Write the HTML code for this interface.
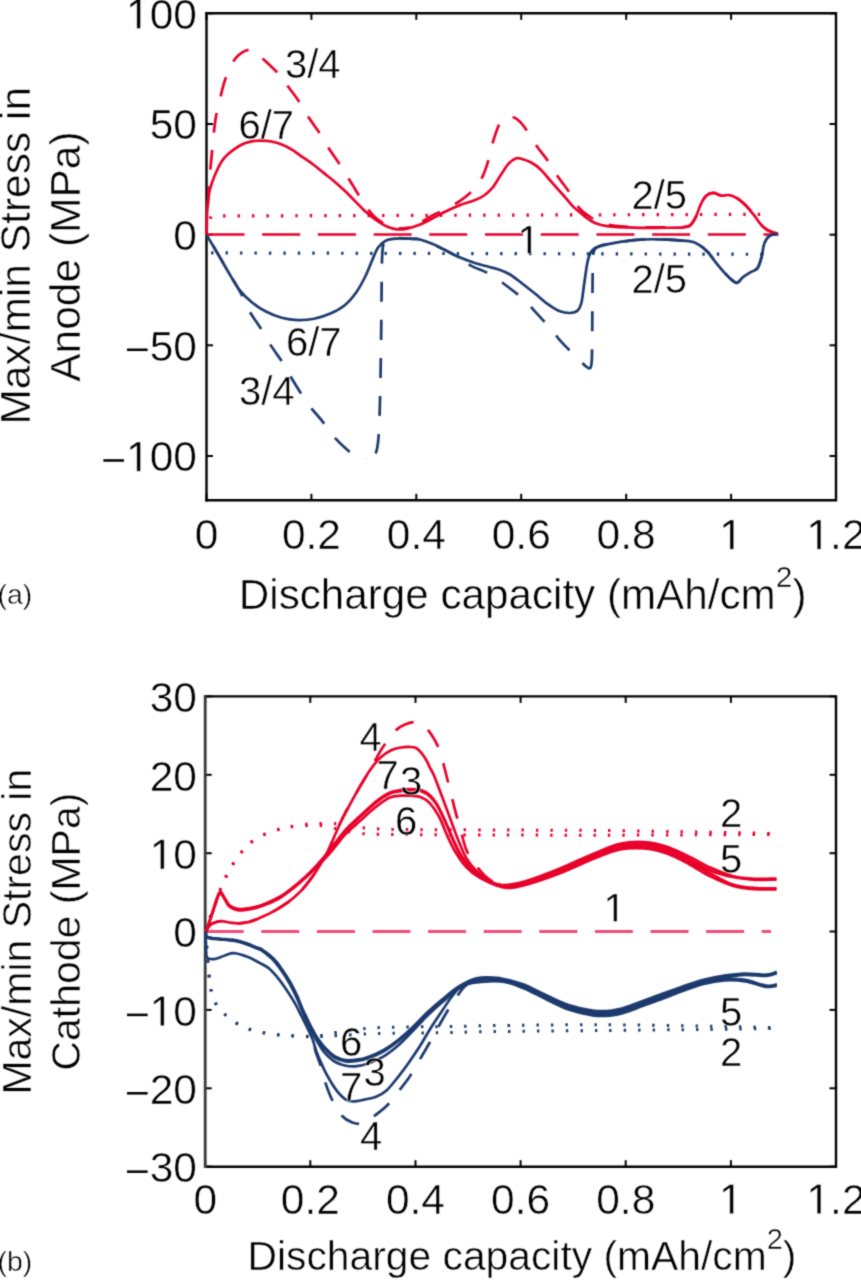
<!DOCTYPE html>
<html><head><meta charset="utf-8"><style>
html,body{margin:0;padding:0;background:#fff;}
svg{display:block;}
</style></head><body>
<svg width="861" height="1280" viewBox="0 0 861 1280">
<defs><filter id="bl" color-interpolation-filters="sRGB" x="0" y="0" width="861" height="1280" filterUnits="userSpaceOnUse"><feConvolveMatrix order="3" kernelMatrix="0.02768 0.11101 0.02768 0.11101 0.44521 0.11101 0.02768 0.11101 0.02768" edgeMode="duplicate"/></filter></defs>
<rect width="861" height="1280" fill="#fff"/>
<g filter="url(#bl)">
<rect width="861" height="1280" fill="#fff"/>
<line x1="206.5" y1="456.0" x2="213.0" y2="456.0" stroke="#000" stroke-width="2.0"/>
<line x1="836.0" y1="456.0" x2="829.5" y2="456.0" stroke="#000" stroke-width="2.0"/>
<line x1="206.5" y1="345.3" x2="213.0" y2="345.3" stroke="#000" stroke-width="2.0"/>
<line x1="836.0" y1="345.3" x2="829.5" y2="345.3" stroke="#000" stroke-width="2.0"/>
<line x1="206.5" y1="234.7" x2="213.0" y2="234.7" stroke="#000" stroke-width="2.0"/>
<line x1="836.0" y1="234.7" x2="829.5" y2="234.7" stroke="#000" stroke-width="2.0"/>
<line x1="206.5" y1="124.0" x2="213.0" y2="124.0" stroke="#000" stroke-width="2.0"/>
<line x1="836.0" y1="124.0" x2="829.5" y2="124.0" stroke="#000" stroke-width="2.0"/>
<line x1="206.5" y1="13.3" x2="213.0" y2="13.3" stroke="#000" stroke-width="2.0"/>
<line x1="836.0" y1="13.3" x2="829.5" y2="13.3" stroke="#000" stroke-width="2.0"/>
<line x1="206.5" y1="500.3" x2="206.5" y2="493.8" stroke="#000" stroke-width="2.0"/>
<line x1="206.5" y1="13.3" x2="206.5" y2="19.8" stroke="#000" stroke-width="2.0"/>
<line x1="311.4" y1="500.3" x2="311.4" y2="493.8" stroke="#000" stroke-width="2.0"/>
<line x1="311.4" y1="13.3" x2="311.4" y2="19.8" stroke="#000" stroke-width="2.0"/>
<line x1="416.3" y1="500.3" x2="416.3" y2="493.8" stroke="#000" stroke-width="2.0"/>
<line x1="416.3" y1="13.3" x2="416.3" y2="19.8" stroke="#000" stroke-width="2.0"/>
<line x1="521.2" y1="500.3" x2="521.2" y2="493.8" stroke="#000" stroke-width="2.0"/>
<line x1="521.2" y1="13.3" x2="521.2" y2="19.8" stroke="#000" stroke-width="2.0"/>
<line x1="626.2" y1="500.3" x2="626.2" y2="493.8" stroke="#000" stroke-width="2.0"/>
<line x1="626.2" y1="13.3" x2="626.2" y2="19.8" stroke="#000" stroke-width="2.0"/>
<line x1="731.1" y1="500.3" x2="731.1" y2="493.8" stroke="#000" stroke-width="2.0"/>
<line x1="731.1" y1="13.3" x2="731.1" y2="19.8" stroke="#000" stroke-width="2.0"/>
<line x1="836.0" y1="500.3" x2="836.0" y2="493.8" stroke="#000" stroke-width="2.0"/>
<line x1="836.0" y1="13.3" x2="836.0" y2="19.8" stroke="#000" stroke-width="2.0"/>
<path d="M205.3,13.3H836.0V500.3H205.3" fill="none" stroke="#000" stroke-width="2.4" stroke-linejoin="miter"/>
<line x1="206.5" y1="12.100000000000001" x2="206.5" y2="501.5" stroke="#000" stroke-width="2.4"/>
<rect x="103.37" y="459.20" width="20.65" height="2.53"/><text x="126.09" y="471.30" font-family="Liberation Sans" stroke="#fff" stroke-width="0.5" font-size="42.5"> 00</text><path d="M515 0V1237L197 1010V1180L530 1409H696V0Z" stroke="#fff" stroke-width="24.1" transform="translate(126.09,471.30) scale(0.020752,-0.020752)"/>
<rect x="127.00" y="348.52" width="20.65" height="2.53"/><text x="149.73" y="360.62" font-family="Liberation Sans" stroke="#fff" stroke-width="0.5" font-size="42.5">50</text>
<text x="173.36" y="249.95" font-family="Liberation Sans" stroke="#fff" stroke-width="0.5" font-size="42.5">0</text>
<text x="149.73" y="139.28" font-family="Liberation Sans" stroke="#fff" stroke-width="0.5" font-size="42.5">50</text>
<text x="126.09" y="28.60" font-family="Liberation Sans" stroke="#fff" stroke-width="0.5" font-size="42.5"> 00</text><path d="M515 0V1237L197 1010V1180L530 1409H696V0Z" stroke="#fff" stroke-width="24.1" transform="translate(126.09,28.60) scale(0.020752,-0.020752)"/>
<text x="194.68" y="549.30" font-family="Liberation Sans" stroke="#fff" stroke-width="0.5" font-size="42.5">0</text>
<text x="281.88" y="549.30" font-family="Liberation Sans" stroke="#fff" stroke-width="0.5" font-size="42.5">0.2</text>
<text x="386.79" y="549.30" font-family="Liberation Sans" stroke="#fff" stroke-width="0.5" font-size="42.5">0.4</text>
<text x="491.71" y="549.30" font-family="Liberation Sans" stroke="#fff" stroke-width="0.5" font-size="42.5">0.6</text>
<text x="596.62" y="549.30" font-family="Liberation Sans" stroke="#fff" stroke-width="0.5" font-size="42.5">0.8</text>
<text x="719.26" y="549.30" font-family="Liberation Sans" stroke="#fff" stroke-width="0.5" font-size="42.5"> </text><path d="M515 0V1237L197 1010V1180L530 1409H696V0Z" stroke="#fff" stroke-width="24.1" transform="translate(719.26,549.30) scale(0.020752,-0.020752)"/>
<text x="806.46" y="549.30" font-family="Liberation Sans" stroke="#fff" stroke-width="0.5" font-size="42.5"> .2</text><path d="M515 0V1237L197 1010V1180L530 1409H696V0Z" stroke="#fff" stroke-width="24.1" transform="translate(806.46,549.30) scale(0.020752,-0.020752)"/>
<path d="M206.5,234.6 L778.5,234.6" fill="none" stroke="#e8002a" stroke-width="2.5" stroke-dasharray="38 17.7" stroke-linecap="butt" stroke-linejoin="round"/>
<path d="M206.5,219.5 L209.0,219.5 L212.0,216.0 L771.0,214.3" fill="none" stroke="#e8002a" stroke-width="3.2" stroke-dasharray="2.4 12.05" stroke-linecap="butt" stroke-linejoin="round" stroke-dashoffset="-3.75"/>
<path d="M206.5,252.9 L771.0,254.3" fill="none" stroke="#1d3a6e" stroke-width="3.2" stroke-dasharray="2.4 12.05" stroke-linecap="butt" stroke-linejoin="round" stroke-dashoffset="-4.6"/>
<path d="M206.5,234.0 C206.7,230.0 207.0,219.0 207.5,210.0 C208.0,201.0 208.8,189.7 209.5,180.0 C210.2,170.3 211.0,162.0 212.0,152.0 C213.0,142.0 214.1,128.8 215.4,120.0 C216.7,111.2 218.4,105.5 220.0,99.0 C221.6,92.5 222.7,86.9 224.7,81.0 C226.7,75.1 229.8,67.8 232.1,63.5 C234.4,59.2 236.3,57.2 238.7,55.0 C241.1,52.8 244.2,51.0 246.7,50.3 C249.1,49.6 250.7,49.6 253.4,51.0 C256.1,52.4 258.8,55.1 262.8,58.7 C266.8,62.3 273.5,68.4 277.5,72.7 C281.5,77.0 283.1,79.9 286.8,84.8 C290.5,89.7 295.9,96.8 299.5,102.1 C303.1,107.4 304.8,111.5 308.2,116.8 C311.6,122.1 316.9,128.9 320.2,134.0 C323.5,139.1 324.6,142.0 328.2,147.5 C331.8,153.0 338.2,161.9 341.6,167.0 C345.0,172.1 346.1,174.4 348.3,178.0 C350.5,181.6 352.3,184.6 354.9,188.8 C357.5,193.0 360.5,198.6 363.7,203.2 C366.9,207.8 370.3,212.8 373.9,216.3 C377.4,219.8 381.1,222.0 385.0,224.0 C388.9,226.0 392.8,227.7 397.0,228.3 C401.2,228.9 407.8,227.6 410.0,227.5" fill="none" stroke="#e8002a" stroke-width="2.7" stroke-dasharray="20 17" stroke-linecap="butt" stroke-linejoin="round" stroke-dashoffset="9.5"/>
<path d="M410.0,227.5 C412.0,226.5 417.9,223.7 422.0,221.5 C426.1,219.3 430.1,216.6 434.3,214.4 C438.5,212.2 443.0,210.8 447.3,208.5 C451.6,206.2 456.1,203.5 460.0,200.8 C463.9,198.1 467.2,195.9 470.8,192.2 C474.4,188.5 478.5,183.9 481.4,178.8 C484.3,173.7 486.1,167.9 488.1,161.4 C490.1,154.9 491.5,146.5 493.5,140.1 C495.5,133.7 497.7,126.6 500.1,122.7 C502.6,118.8 505.5,117.5 508.2,116.8 C510.9,116.1 513.5,117.0 516.2,118.7 C518.9,120.4 520.7,122.1 524.2,126.7 C527.7,131.3 533.0,140.8 537.0,146.5 C541.0,152.2 544.6,156.1 548.0,161.0 C551.4,165.9 553.7,170.4 557.5,176.0 C561.3,181.6 567.2,189.0 571.0,194.5 C574.8,200.0 576.7,205.2 580.0,209.0 C583.3,212.8 587.7,215.2 591.0,217.5 C594.3,219.8 596.0,221.1 600.0,222.5 C604.0,223.9 609.4,225.1 615.0,225.8 C620.6,226.6 626.7,226.8 633.7,227.0 C640.7,227.2 648.5,227.3 656.8,227.3 C665.1,227.3 678.1,227.4 683.7,227.0 C689.3,226.6 688.4,226.8 690.4,225.1 C692.4,223.4 693.9,220.7 695.7,217.1 C697.5,213.5 699.3,207.3 701.1,203.7 C702.9,200.1 704.5,197.4 706.5,195.6 C708.5,193.8 710.8,192.9 713.2,192.9 C715.7,192.9 718.5,195.2 721.2,195.6 C723.9,196.0 726.6,194.6 729.3,195.1 C732.0,195.6 734.6,196.7 737.3,198.3 C740.0,200.0 742.7,202.3 745.4,205.0 C748.1,207.7 750.7,211.1 753.4,214.4 C756.1,217.8 759.0,222.4 761.5,225.1 C764.0,227.8 765.5,229.1 768.2,230.5 C770.9,231.9 776.0,233.2 777.6,233.7" fill="none" stroke="#e8002a" stroke-width="2.7" stroke-dasharray="20 17" stroke-linecap="butt" stroke-linejoin="round" stroke-dashoffset="-13.75"/>
<path d="M206.5,234.0 C206.6,230.8 206.8,220.0 207.0,215.0 C207.2,210.0 207.4,207.9 207.8,204.0 C208.2,200.1 208.7,195.2 209.4,191.6 C210.1,188.0 211.1,185.3 212.2,182.2 C213.3,179.1 214.3,176.2 215.9,172.8 C217.5,169.4 219.6,164.7 221.6,161.6 C223.6,158.5 225.0,156.8 228.1,154.1 C231.2,151.4 236.3,147.6 240.0,145.5 C243.7,143.4 247.0,142.4 250.5,141.6 C254.0,140.8 257.4,140.6 260.9,140.6 C264.4,140.6 267.9,140.8 271.4,141.5 C274.9,142.2 278.3,143.2 281.8,144.6 C285.3,146.0 288.8,147.8 292.3,149.9 C295.8,152.0 299.2,154.8 302.7,157.2 C306.2,159.6 309.7,161.9 313.2,164.5 C316.7,167.1 320.1,170.1 323.6,172.9 C327.1,175.7 330.6,178.2 334.1,181.2 C337.6,184.1 341.0,187.3 344.5,190.6 C348.0,193.9 351.5,197.6 355.0,201.1 C358.5,204.6 361.9,208.4 365.4,211.5 C368.9,214.6 372.4,217.5 375.9,219.9 C379.4,222.3 382.9,224.6 386.4,226.2 C389.9,227.8 393.3,228.9 396.8,229.3 C400.3,229.7 403.4,229.4 407.3,228.6 C411.2,227.8 415.5,226.5 420.0,224.6 C424.5,222.7 429.9,219.7 434.3,217.4 C438.8,215.1 442.4,213.1 446.7,211.0 C451.0,208.9 455.7,206.8 460.3,205.0 C464.9,203.2 470.5,201.9 474.5,200.3 C478.5,198.7 481.2,197.5 484.1,195.5 C487.0,193.5 489.4,191.4 492.1,188.2 C494.8,185.0 497.4,180.1 500.1,176.1 C502.8,172.1 505.5,167.1 508.2,164.1 C510.9,161.1 513.9,159.2 516.2,158.3 C518.5,157.5 519.2,158.2 521.8,159.0 C524.4,159.8 528.4,161.0 531.6,162.8 C534.8,164.6 538.0,167.0 540.9,169.7 C543.8,172.4 546.3,175.9 549.0,179.0 C551.7,182.1 554.3,185.0 557.2,188.3 C560.1,191.6 563.8,195.7 566.5,198.8 C569.2,201.9 571.1,204.6 573.4,206.9 C575.7,209.2 578.1,210.8 580.4,212.7 C582.7,214.6 584.9,216.8 587.4,218.5 C589.9,220.2 592.2,221.9 595.5,223.2 C598.8,224.5 600.7,225.3 607.1,226.1 C613.5,226.8 625.4,227.4 633.7,227.7 C642.0,228.0 648.5,227.9 656.8,227.8 C665.1,227.7 678.1,227.8 683.7,227.3 C689.3,226.9 688.4,226.8 690.4,225.1 C692.4,223.4 693.9,220.7 695.7,217.1 C697.5,213.5 699.3,207.3 701.1,203.7 C702.9,200.1 704.5,197.4 706.5,195.6 C708.5,193.8 710.8,192.9 713.2,192.9 C715.7,192.9 718.5,195.2 721.2,195.6 C723.9,196.0 726.6,194.6 729.3,195.1 C732.0,195.6 734.6,196.7 737.3,198.3 C740.0,200.0 742.7,202.3 745.4,205.0 C748.1,207.7 750.7,211.1 753.4,214.4 C756.1,217.8 759.0,222.4 761.5,225.1 C764.0,227.8 765.5,229.1 768.2,230.5 C770.9,231.9 776.0,233.2 777.6,233.7" fill="none" stroke="#e8002a" stroke-width="2.7" stroke-linecap="butt" stroke-linejoin="round"/>
<path d="M206.5,234.8 C206.8,235.4 206.4,234.6 208.5,238.1 C210.6,241.6 215.6,250.0 218.9,255.6 C222.2,261.2 225.5,267.2 228.2,271.8 C230.9,276.4 232.6,278.9 235.0,283.0 C237.4,287.1 240.3,292.0 242.7,296.7 C245.1,301.4 246.3,305.7 249.4,311.1 C252.5,316.6 257.8,323.7 261.4,329.4 C265.0,335.1 267.2,339.8 270.8,345.4 C274.4,351.0 279.2,357.2 282.8,362.8 C286.4,368.4 288.0,372.3 292.2,379.2 C296.4,386.1 303.3,397.4 308.2,404.2 C313.1,411.0 317.5,415.1 321.5,420.2 C325.5,425.3 328.0,430.0 332.2,434.9 C336.4,439.8 342.7,445.9 346.9,449.6 C351.1,453.3 354.4,455.4 357.6,457.0 C360.8,458.6 364.6,458.7 366.0,459.0" fill="none" stroke="#1d3a6e" stroke-width="2.7" stroke-dasharray="20 18" stroke-linecap="butt" stroke-linejoin="round" stroke-dashoffset="-13"/>
<path d="M366.0,459.0 C367.2,458.7 371.2,458.7 373.0,457.0 C374.8,455.3 376.0,453.5 377.0,449.0 C378.0,444.5 378.5,438.2 379.0,430.0 C379.5,421.8 379.7,411.7 380.0,400.0 C380.3,388.3 380.6,376.7 380.8,360.0 C381.1,343.3 381.3,316.7 381.5,300.0 C381.7,283.3 381.7,269.3 382.0,260.0 C382.3,250.7 382.5,247.4 383.5,244.0 C384.5,240.6 385.6,240.4 388.0,239.4 C390.4,238.4 393.4,238.2 397.7,238.1 C402.0,238.0 410.0,238.7 413.7,238.9 C417.4,239.1 416.7,238.6 420.0,239.5 C423.3,240.4 428.9,242.4 433.4,244.3 C437.8,246.2 442.6,248.8 446.7,250.9 C450.8,253.0 454.0,254.6 458.0,257.0 C462.0,259.4 465.6,262.8 470.8,265.6 C476.1,268.4 484.2,271.1 489.5,274.0 C494.8,276.9 497.0,278.7 502.8,283.0 C508.6,287.3 518.9,295.1 524.2,299.8 C529.6,304.5 530.5,306.6 534.9,311.4 C539.3,316.2 546.4,323.7 550.9,328.8 C555.4,333.9 556.7,336.9 561.6,342.2 C566.5,347.5 576.2,356.8 580.3,360.9 C584.4,364.9 584.4,365.2 586.0,366.5 C587.6,367.8 589.3,368.5 590.0,368.9" fill="none" stroke="#1d3a6e" stroke-width="2.7" stroke-dasharray="20 18" stroke-linecap="butt" stroke-linejoin="round" stroke-dashoffset="-11.7"/>
<path d="M590.0,368.9 C590.3,367.4 591.4,368.1 591.8,360.0 C592.2,351.9 592.2,333.3 592.3,320.0 C592.4,306.7 592.4,291.3 592.6,280.0 C592.8,268.7 592.4,257.7 593.6,252.0 C594.8,246.3 597.8,247.3 600.0,246.0 C602.2,244.7 601.4,245.3 607.0,244.3 C612.6,243.3 625.4,241.0 633.7,240.2 C642.0,239.4 647.6,239.1 656.8,239.3 C666.0,239.5 681.8,240.2 689.0,241.2 C696.2,242.2 696.7,243.5 699.8,245.3 C702.9,247.1 705.1,249.1 707.8,252.0 C710.5,254.9 713.2,259.3 715.9,262.7 C718.6,266.1 721.2,269.2 723.9,272.1 C726.6,275.0 729.8,278.3 732.0,280.1 C734.2,281.9 735.5,283.2 737.3,282.8 C739.1,282.4 740.5,279.2 742.7,277.4 C744.9,275.6 748.2,273.7 750.7,272.1 C753.2,270.6 755.7,270.6 757.5,268.1 C759.3,265.6 760.4,261.3 761.5,257.3 C762.6,253.3 762.9,247.5 764.2,243.9 C765.5,240.3 767.3,237.6 769.5,235.9 C771.7,234.2 776.2,234.1 777.6,233.7" fill="none" stroke="#1d3a6e" stroke-width="2.7" stroke-dasharray="20 18" stroke-linecap="butt" stroke-linejoin="round" stroke-dashoffset="0"/>
<path d="M206.5,234.8 C206.8,235.4 206.4,234.6 208.5,238.1 C210.6,241.6 215.6,250.0 218.9,255.6 C222.2,261.2 224.7,266.0 228.2,271.8 C231.7,277.6 235.9,285.4 239.8,290.4 C243.7,295.4 247.2,298.5 251.5,302.0 C255.8,305.5 260.4,308.7 265.4,311.3 C270.4,313.9 276.3,316.3 281.7,317.8 C287.1,319.3 292.5,320.0 297.9,320.1 C303.3,320.2 308.8,319.8 314.2,318.7 C319.6,317.6 325.4,315.8 330.4,313.6 C335.4,311.4 340.1,309.0 344.4,305.5 C348.7,302.0 352.5,297.5 356.0,292.7 C359.5,287.9 362.6,281.9 365.3,276.5 C368.0,271.1 370.1,265.1 372.2,260.2 C374.3,255.3 375.8,250.7 378.1,247.4 C380.4,244.1 383.1,242.0 386.2,240.5 C389.3,239.0 392.4,238.9 397.0,238.6 C401.6,238.3 409.9,238.8 413.7,238.9 C417.5,239.1 416.7,238.6 420.0,239.5 C423.3,240.4 428.9,242.4 433.4,244.3 C437.8,246.2 442.2,248.7 446.7,250.9 C451.1,253.1 455.7,255.7 460.1,257.6 C464.6,259.5 468.5,260.9 473.4,262.5 C478.3,264.1 485.1,265.8 489.5,267.0 C493.9,268.2 496.7,268.8 500.1,270.0 C503.5,271.2 506.4,272.3 510.0,274.5 C513.6,276.7 517.4,279.8 521.5,283.0 C525.6,286.2 530.4,289.9 534.9,293.5 C539.4,297.1 544.0,301.4 548.2,304.4 C552.4,307.4 556.4,309.9 560.0,311.3 C563.6,312.7 567.1,313.1 570.0,313.0 C572.9,312.9 575.7,312.3 577.6,310.5 C579.5,308.7 580.5,306.6 581.6,302.0 C582.7,297.4 583.3,289.7 584.3,283.0 C585.3,276.3 586.4,267.2 587.5,262.0 C588.6,256.8 589.6,254.4 591.0,252.0 C592.4,249.6 593.3,248.8 596.0,247.5 C598.7,246.2 600.7,245.5 607.0,244.3 C613.3,243.1 625.4,241.0 633.7,240.2 C642.0,239.4 647.6,239.1 656.8,239.3 C666.0,239.5 681.8,240.2 689.0,241.2 C696.2,242.2 696.7,243.5 699.8,245.3 C702.9,247.1 705.1,249.1 707.8,252.0 C710.5,254.9 713.2,259.3 715.9,262.7 C718.6,266.1 721.2,269.2 723.9,272.1 C726.6,275.0 729.8,278.3 732.0,280.1 C734.2,281.9 735.5,283.2 737.3,282.8 C739.1,282.4 740.5,279.2 742.7,277.4 C744.9,275.6 748.2,273.7 750.7,272.1 C753.2,270.6 755.7,270.6 757.5,268.1 C759.3,265.6 760.4,261.3 761.5,257.3 C762.6,253.3 762.9,247.5 764.2,243.9 C765.5,240.3 767.3,237.6 769.5,235.9 C771.7,234.2 776.2,234.1 777.6,233.7" fill="none" stroke="#1d3a6e" stroke-width="2.7" stroke-linecap="butt" stroke-linejoin="round"/>
<text x="285.00" y="77.50" font-family="Liberation Sans" stroke="#fff" stroke-width="0.5" font-size="40">3/4</text>
<text x="238.50" y="139.00" font-family="Liberation Sans" stroke="#fff" stroke-width="0.5" font-size="40">6/7</text>
<text x="286.00" y="356.00" font-family="Liberation Sans" stroke="#fff" stroke-width="0.5" font-size="40">6/7</text>
<text x="239.00" y="404.50" font-family="Liberation Sans" stroke="#fff" stroke-width="0.5" font-size="40">3/4</text>
<text x="517.50" y="253.60" font-family="Liberation Sans" stroke="#fff" stroke-width="0.5" font-size="40"> </text><path d="M515 0V1237L197 1010V1180L530 1409H696V0Z" stroke="#fff" stroke-width="25.6" transform="translate(517.50,253.60) scale(0.019531,-0.019531)"/>
<text x="631.50" y="208.50" font-family="Liberation Sans" stroke="#fff" stroke-width="0.5" font-size="40">2/5</text>
<text x="631.50" y="293.00" font-family="Liberation Sans" stroke="#fff" stroke-width="0.5" font-size="40">2/5</text>
<text transform="translate(30,255.75) rotate(-90)" text-anchor="middle" font-family="Liberation Sans" stroke="#fff" stroke-width="0.5" font-size="42.5">Max/min Stress in</text>
<text transform="translate(79.5,256.6) rotate(-90)" text-anchor="middle" font-family="Liberation Sans" stroke="#fff" stroke-width="0.5" font-size="42.5">Anode (MPa)</text>
<text x="238.8" y="608.5" font-family="Liberation Sans" stroke="#fff" stroke-width="0.5" font-size="42.2">Discharge capacity (mAh/cm<tspan font-size="30" dy="-22">2</tspan><tspan dy="22">)</tspan></text>
<text x="-2.5" y="604" font-family="Liberation Sans" stroke="#fff" stroke-width="0.5" font-size="28.5">(a)</text>
<line x1="205.2" y1="1166.7" x2="211.7" y2="1166.7" stroke="#000" stroke-width="2.0"/>
<line x1="836.0" y1="1166.7" x2="829.5" y2="1166.7" stroke="#000" stroke-width="2.0"/>
<line x1="205.2" y1="1088.3" x2="211.7" y2="1088.3" stroke="#000" stroke-width="2.0"/>
<line x1="836.0" y1="1088.3" x2="829.5" y2="1088.3" stroke="#000" stroke-width="2.0"/>
<line x1="205.2" y1="1009.9" x2="211.7" y2="1009.9" stroke="#000" stroke-width="2.0"/>
<line x1="836.0" y1="1009.9" x2="829.5" y2="1009.9" stroke="#000" stroke-width="2.0"/>
<line x1="205.2" y1="931.5" x2="211.7" y2="931.5" stroke="#000" stroke-width="2.0"/>
<line x1="836.0" y1="931.5" x2="829.5" y2="931.5" stroke="#000" stroke-width="2.0"/>
<line x1="205.2" y1="853.2" x2="211.7" y2="853.2" stroke="#000" stroke-width="2.0"/>
<line x1="836.0" y1="853.2" x2="829.5" y2="853.2" stroke="#000" stroke-width="2.0"/>
<line x1="205.2" y1="774.8" x2="211.7" y2="774.8" stroke="#000" stroke-width="2.0"/>
<line x1="836.0" y1="774.8" x2="829.5" y2="774.8" stroke="#000" stroke-width="2.0"/>
<line x1="205.2" y1="696.4" x2="211.7" y2="696.4" stroke="#000" stroke-width="2.0"/>
<line x1="836.0" y1="696.4" x2="829.5" y2="696.4" stroke="#000" stroke-width="2.0"/>
<line x1="205.2" y1="1166.7" x2="205.2" y2="1160.2" stroke="#000" stroke-width="2.0"/>
<line x1="205.2" y1="696.4" x2="205.2" y2="702.9" stroke="#000" stroke-width="2.0"/>
<line x1="310.3" y1="1166.7" x2="310.3" y2="1160.2" stroke="#000" stroke-width="2.0"/>
<line x1="310.3" y1="696.4" x2="310.3" y2="702.9" stroke="#000" stroke-width="2.0"/>
<line x1="415.5" y1="1166.7" x2="415.5" y2="1160.2" stroke="#000" stroke-width="2.0"/>
<line x1="415.5" y1="696.4" x2="415.5" y2="702.9" stroke="#000" stroke-width="2.0"/>
<line x1="520.6" y1="1166.7" x2="520.6" y2="1160.2" stroke="#000" stroke-width="2.0"/>
<line x1="520.6" y1="696.4" x2="520.6" y2="702.9" stroke="#000" stroke-width="2.0"/>
<line x1="625.7" y1="1166.7" x2="625.7" y2="1160.2" stroke="#000" stroke-width="2.0"/>
<line x1="625.7" y1="696.4" x2="625.7" y2="702.9" stroke="#000" stroke-width="2.0"/>
<line x1="730.9" y1="1166.7" x2="730.9" y2="1160.2" stroke="#000" stroke-width="2.0"/>
<line x1="730.9" y1="696.4" x2="730.9" y2="702.9" stroke="#000" stroke-width="2.0"/>
<line x1="836.0" y1="1166.7" x2="836.0" y2="1160.2" stroke="#000" stroke-width="2.0"/>
<line x1="836.0" y1="696.4" x2="836.0" y2="702.9" stroke="#000" stroke-width="2.0"/>
<path d="M204.0,696.4H836.0V1166.7H204.0" fill="none" stroke="#000" stroke-width="2.4" stroke-linejoin="miter"/>
<line x1="205.2" y1="695.1999999999999" x2="205.2" y2="1167.9" stroke="#3a3a3a" stroke-width="2.8"/>
<rect x="127.00" y="1170.39" width="20.65" height="2.53"/><text x="149.73" y="1182.49" font-family="Liberation Sans" stroke="#fff" stroke-width="0.5" font-size="42.5">30</text>
<rect x="127.00" y="1092.01" width="20.65" height="2.53"/><text x="149.73" y="1104.11" font-family="Liberation Sans" stroke="#fff" stroke-width="0.5" font-size="42.5">20</text>
<rect x="127.00" y="1013.63" width="20.65" height="2.53"/><text x="149.73" y="1025.73" font-family="Liberation Sans" stroke="#fff" stroke-width="0.5" font-size="42.5"> 0</text><path d="M515 0V1237L197 1010V1180L530 1409H696V0Z" stroke="#fff" stroke-width="24.1" transform="translate(149.73,1025.73) scale(0.020752,-0.020752)"/>
<text x="173.36" y="947.35" font-family="Liberation Sans" stroke="#fff" stroke-width="0.5" font-size="42.5">0</text>
<text x="149.73" y="868.97" font-family="Liberation Sans" stroke="#fff" stroke-width="0.5" font-size="42.5"> 0</text><path d="M515 0V1237L197 1010V1180L530 1409H696V0Z" stroke="#fff" stroke-width="24.1" transform="translate(149.73,868.97) scale(0.020752,-0.020752)"/>
<text x="149.73" y="790.59" font-family="Liberation Sans" stroke="#fff" stroke-width="0.5" font-size="42.5">20</text>
<text x="149.73" y="712.21" font-family="Liberation Sans" stroke="#fff" stroke-width="0.5" font-size="42.5">30</text>
<text x="193.38" y="1213.70" font-family="Liberation Sans" stroke="#fff" stroke-width="0.5" font-size="42.5">0</text>
<text x="280.79" y="1213.70" font-family="Liberation Sans" stroke="#fff" stroke-width="0.5" font-size="42.5">0.2</text>
<text x="385.93" y="1213.70" font-family="Liberation Sans" stroke="#fff" stroke-width="0.5" font-size="42.5">0.4</text>
<text x="491.06" y="1213.70" font-family="Liberation Sans" stroke="#fff" stroke-width="0.5" font-size="42.5">0.6</text>
<text x="596.20" y="1213.70" font-family="Liberation Sans" stroke="#fff" stroke-width="0.5" font-size="42.5">0.8</text>
<text x="719.05" y="1213.70" font-family="Liberation Sans" stroke="#fff" stroke-width="0.5" font-size="42.5"> </text><path d="M515 0V1237L197 1010V1180L530 1409H696V0Z" stroke="#fff" stroke-width="24.1" transform="translate(719.05,1213.70) scale(0.020752,-0.020752)"/>
<text x="806.46" y="1213.70" font-family="Liberation Sans" stroke="#fff" stroke-width="0.5" font-size="42.5"> .2</text><path d="M515 0V1237L197 1010V1180L530 1409H696V0Z" stroke="#fff" stroke-width="24.1" transform="translate(806.46,1213.70) scale(0.020752,-0.020752)"/>
<text transform="translate(30.5,931.7) rotate(-90)" text-anchor="middle" font-family="Liberation Sans" stroke="#fff" stroke-width="0.5" font-size="41">Max/min Stress in</text>
<text transform="translate(79.5,931.65) rotate(-90)" text-anchor="middle" font-family="Liberation Sans" stroke="#fff" stroke-width="0.5" font-size="41">Cathode (MPa)</text>
<text x="247.5" y="1270.3" font-family="Liberation Sans" stroke="#fff" stroke-width="0.5" font-size="40.8">Discharge capacity (mAh/cm<tspan font-size="29" dy="-21">2</tspan><tspan dy="21">)</tspan></text>
<text x="-2.5" y="1271" font-family="Liberation Sans" stroke="#fff" stroke-width="0.5" font-size="28.5">(b)</text>
<path d="M205.7,931.4 L771.0,931.4" fill="none" stroke="#ef4c76" stroke-width="3.0" stroke-dasharray="38 17.6" stroke-linecap="butt" stroke-linejoin="round"/>
<path d="M205.7,931.5 C206.2,929.6 207.8,923.5 209.0,920.0 C210.2,916.5 211.7,914.1 213.0,910.6 C214.3,907.1 215.8,902.6 217.0,899.0 C218.2,895.4 219.3,892.2 220.5,889.0 C221.7,885.8 222.7,883.6 224.4,880.0 C226.1,876.4 228.5,871.6 230.9,867.5 C233.3,863.4 236.2,859.3 239.0,855.5 C241.8,851.7 244.6,848.0 248.0,844.9 C251.4,841.8 255.1,839.3 259.3,837.0 C263.5,834.7 269.0,832.5 273.2,831.0 C277.4,829.5 281.1,828.8 284.6,828.0 C288.1,827.2 290.2,826.7 294.3,826.0 C298.4,825.3 304.0,824.4 308.9,824.0 C313.8,823.6 318.4,823.4 323.6,823.4 C328.8,823.4 333.9,823.3 340.0,824.0 C346.1,824.7 350.0,826.6 360.0,827.5 C370.0,828.4 376.7,829.1 400.0,829.5 C423.3,829.9 466.7,829.8 500.0,830.0 C533.3,830.2 566.7,830.2 600.0,830.5 C633.3,830.8 671.5,831.5 700.0,832.0 C728.5,832.5 759.2,833.2 771.0,833.5" fill="none" stroke="#e8002a" stroke-width="3.0" stroke-dasharray="2.4 12.05" stroke-linecap="butt" stroke-linejoin="round"/>
<path d="M205.7,931.5 C206.2,929.6 207.8,923.5 209.0,920.0 C210.2,916.5 211.7,914.1 213.0,910.6 C214.3,907.1 215.8,902.6 217.0,899.0 C218.2,895.4 219.3,892.2 220.5,889.0 C221.7,885.8 222.7,883.6 224.4,880.0 C226.1,876.4 228.5,871.6 230.9,867.5 C233.3,863.4 236.2,859.3 239.0,855.5 C241.8,851.7 244.6,848.0 248.0,844.9 C251.4,841.8 255.1,839.3 259.3,837.0 C263.5,834.7 269.0,832.5 273.2,831.0 C277.4,829.5 281.1,828.8 284.6,828.0 C288.1,827.2 290.2,826.9 294.3,826.5 C298.4,826.1 304.0,825.6 308.9,825.5 C313.8,825.4 318.4,825.3 323.6,826.0 C328.8,826.7 333.9,828.2 340.0,829.5 C346.1,830.8 350.0,832.7 360.0,833.5 C370.0,834.3 376.7,834.2 400.0,834.5 C423.3,834.8 466.7,834.9 500.0,835.0 C533.3,835.1 566.7,835.2 600.0,835.2 C633.3,835.2 671.5,834.9 700.0,834.8 C728.5,834.7 759.2,834.5 771.0,834.5" fill="none" stroke="#e8002a" stroke-width="3.0" stroke-dasharray="2.4 12.05" stroke-linecap="butt" stroke-linejoin="round"/>
<path d="M205.7,931.5 C205.9,934.6 206.4,942.8 207.0,950.0 C207.6,957.2 208.2,968.0 209.0,975.0 C209.8,982.0 210.3,987.2 211.5,992.0 C212.7,996.8 213.8,1000.2 216.0,1004.0 C218.2,1007.8 221.9,1011.5 225.0,1014.5 C228.1,1017.5 231.5,1020.0 234.8,1022.2 C238.1,1024.4 241.5,1026.0 245.0,1027.5 C248.5,1029.0 251.9,1030.2 255.7,1031.2 C259.5,1032.2 263.9,1032.9 268.0,1033.5 C272.1,1034.1 274.0,1034.5 280.1,1035.0 C286.2,1035.5 297.9,1036.3 304.5,1036.6 C311.1,1036.9 314.3,1036.8 320.0,1036.6 C325.7,1036.4 331.3,1035.9 338.9,1035.5 C346.5,1035.1 356.7,1034.4 365.6,1034.0 C374.5,1033.6 383.0,1033.5 392.3,1033.3 C401.6,1033.1 412.1,1033.1 421.7,1033.0 C431.3,1032.9 436.9,1032.8 450.0,1032.5 C463.1,1032.2 475.0,1031.8 500.0,1031.5 C525.0,1031.2 566.7,1030.8 600.0,1030.5 C633.3,1030.2 671.5,1029.8 700.0,1029.5 C728.5,1029.2 759.2,1028.7 771.0,1028.5" fill="none" stroke="#1d3a6e" stroke-width="3.0" stroke-dasharray="2.4 12.05" stroke-linecap="butt" stroke-linejoin="round"/>
<path d="M205.7,931.5 C205.9,934.6 206.4,942.8 207.0,950.0 C207.6,957.2 208.2,968.0 209.0,975.0 C209.8,982.0 210.3,987.2 211.5,992.0 C212.7,996.8 213.8,1000.2 216.0,1004.0 C218.2,1007.8 221.9,1011.5 225.0,1014.5 C228.1,1017.5 231.5,1020.0 234.8,1022.2 C238.1,1024.4 241.5,1026.0 245.0,1027.5 C248.5,1029.0 251.9,1030.2 255.7,1031.2 C259.5,1032.2 263.9,1032.9 268.0,1033.5 C272.1,1034.1 274.0,1034.5 280.1,1035.0 C286.2,1035.5 297.9,1036.1 304.5,1036.2 C311.1,1036.3 314.3,1036.2 320.0,1035.5 C325.7,1034.8 331.3,1033.2 338.9,1032.0 C346.5,1030.8 356.7,1029.3 365.6,1028.5 C374.5,1027.7 383.0,1027.5 392.3,1027.2 C401.6,1026.9 412.1,1026.9 421.7,1026.8 C431.3,1026.7 436.9,1026.7 450.0,1026.5 C463.1,1026.3 475.0,1025.8 500.0,1025.5 C525.0,1025.2 566.7,1024.7 600.0,1024.8 C633.3,1024.9 671.5,1025.5 700.0,1026.0 C728.5,1026.5 759.2,1027.2 771.0,1027.5" fill="none" stroke="#1d3a6e" stroke-width="3.0" stroke-dasharray="2.4 12.05" stroke-linecap="butt" stroke-linejoin="round"/>
<path d="M205.7,931.5 C206.2,930.6 207.8,927.4 209.0,926.0 C210.2,924.6 211.0,924.0 213.0,923.2 C215.0,922.4 218.4,921.2 221.1,921.1 C223.8,921.0 226.3,922.1 229.3,922.5 C232.3,922.9 235.8,923.4 239.0,923.3 C242.2,923.2 245.0,923.0 248.8,922.0 C252.6,921.0 257.5,919.0 261.8,917.1 C266.1,915.2 270.5,913.1 274.8,910.6 C279.1,908.1 283.5,905.6 287.8,902.4 C292.1,899.1 296.7,895.3 300.8,891.1 C304.9,886.9 308.9,881.4 312.2,877.0 C315.4,872.6 317.6,869.0 320.3,864.5 C323.0,860.0 325.1,857.1 328.5,850.0 C331.9,842.9 337.1,829.6 340.7,822.0 C344.3,814.4 346.8,810.3 350.0,804.3 C353.2,798.3 356.8,791.9 360.2,786.1 C363.6,780.4 367.7,774.3 370.3,769.8 C372.9,765.3 374.1,762.5 376.0,759.0 C377.9,755.5 379.9,751.8 382.0,748.5 C384.1,745.2 386.3,742.4 388.6,739.4 C390.9,736.4 393.0,732.7 395.7,730.2 C398.4,727.7 401.8,725.9 405.0,724.5 C408.2,723.1 411.9,722.0 415.0,722.1 C418.1,722.2 420.8,723.3 423.5,725.4 C426.2,727.5 428.8,730.6 431.5,734.7 C434.2,738.8 437.3,744.2 439.5,750.0 C441.7,755.8 443.1,762.7 444.9,769.5 C446.7,776.3 448.4,783.7 450.2,790.8 C452.0,797.9 453.8,805.5 455.6,812.2 C457.4,818.9 459.1,824.7 460.9,830.9 C462.7,837.1 464.0,844.2 466.2,849.6 C468.4,855.0 471.2,858.6 474.3,863.0 C477.4,867.4 481.4,872.6 485.0,876.0 C488.6,879.4 492.9,881.7 496.0,883.5 C499.1,885.3 498.9,886.5 503.6,886.6 C508.4,886.7 515.2,886.4 524.5,883.9 C533.8,881.4 547.8,876.4 559.4,871.9 C571.0,867.4 584.1,860.9 594.2,856.9 C604.3,852.8 611.7,849.4 620.0,847.6 C628.3,845.9 636.4,845.8 644.1,846.4 C651.8,846.9 658.8,848.6 666.2,851.0 C673.6,853.5 680.9,857.4 688.3,861.2 C695.6,864.9 702.9,869.6 710.3,873.5 C717.6,877.4 725.0,882.1 732.4,884.6 C739.8,887.1 747.1,887.6 754.5,888.2 C761.9,888.8 772.8,888.4 776.5,888.4" fill="none" stroke="#e8002a" stroke-width="2.7" stroke-dasharray="20 17" stroke-linecap="butt" stroke-linejoin="round"/>
<path d="M205.7,931.5 C206.2,930.6 207.8,927.4 209.0,926.0 C210.2,924.6 211.0,924.0 213.0,923.2 C215.0,922.4 218.4,921.2 221.1,921.1 C223.8,921.0 226.3,922.1 229.3,922.5 C232.3,922.9 235.8,923.4 239.0,923.3 C242.2,923.2 245.0,923.0 248.8,922.0 C252.6,921.0 257.5,919.0 261.8,917.1 C266.1,915.2 270.5,913.1 274.8,910.6 C279.1,908.1 283.5,905.6 287.8,902.4 C292.1,899.1 296.7,895.3 300.8,891.1 C304.9,886.9 308.9,881.4 312.2,877.0 C315.4,872.6 317.6,869.0 320.3,864.5 C323.0,860.0 325.1,857.1 328.5,850.0 C331.9,842.9 337.1,829.6 340.7,822.0 C344.3,814.4 346.8,810.3 350.0,804.3 C353.2,798.3 356.8,791.9 360.2,786.1 C363.6,780.4 366.9,774.5 370.3,769.8 C373.7,765.0 377.1,760.8 380.5,757.6 C383.9,754.4 387.2,752.2 390.6,750.5 C394.0,748.8 397.4,748.1 400.8,747.5 C404.2,746.9 408.4,746.9 410.9,747.0 C413.4,747.1 414.3,747.1 416.0,748.0 C417.7,748.9 419.4,750.6 421.1,752.6 C422.8,754.6 424.6,757.2 426.1,759.7 C427.6,762.2 428.6,765.1 430.0,767.8 C431.4,770.5 432.2,771.1 434.2,776.0 C436.2,780.9 439.5,789.9 442.2,797.0 C444.9,804.1 447.5,811.3 450.2,818.5 C452.9,825.7 455.5,833.4 458.2,840.0 C460.9,846.6 463.1,852.8 466.2,858.0 C469.3,863.2 472.9,867.6 476.9,871.5 C480.9,875.4 485.9,879.4 490.3,881.6 C494.8,883.9 497.9,885.0 503.6,885.0 C509.3,885.0 515.2,884.2 524.5,881.5 C533.8,878.8 547.8,873.4 559.4,868.7 C571.0,864.0 584.1,857.5 594.2,853.4 C604.3,849.3 611.7,845.8 620.0,843.9 C628.3,842.0 636.4,841.7 644.1,842.1 C651.8,842.5 658.8,844.2 666.2,846.5 C673.6,848.8 680.9,852.6 688.3,856.1 C695.6,859.6 702.9,864.3 710.3,867.6 C717.6,870.9 725.0,874.1 732.4,876.0 C739.8,877.9 747.1,878.4 754.5,878.8 C761.9,879.2 772.8,878.6 776.5,878.6" fill="none" stroke="#e8002a" stroke-width="2.7" stroke-linecap="butt" stroke-linejoin="round"/>
<path d="M205.7,931.5 C205.9,931.1 205.8,932.5 207.0,929.0 C208.2,925.5 210.9,916.7 213.0,910.6 C215.1,904.5 217.6,894.7 219.5,892.5 C221.4,890.3 222.8,895.5 224.4,897.6 C226.0,899.7 227.1,903.3 229.3,905.2 C231.5,907.1 234.7,908.3 237.4,908.9 C240.1,909.5 242.2,909.1 245.5,908.7 C248.8,908.3 253.1,907.5 256.9,906.5 C260.7,905.5 264.2,904.2 268.3,902.4 C272.4,900.6 277.0,898.6 281.3,895.9 C285.6,893.2 290.2,889.5 294.3,886.2 C298.4,883.0 301.9,879.9 305.7,876.4 C309.5,872.9 313.6,868.8 317.1,865.0 C320.6,861.2 323.8,857.4 326.8,853.7 C329.8,850.0 331.8,847.0 335.0,843.0 C338.2,839.0 341.8,834.0 346.0,829.5 C350.2,825.0 355.9,819.9 360.0,816.0 C364.1,812.1 366.9,809.4 370.3,806.4 C373.7,803.4 377.1,800.6 380.5,798.2 C383.9,795.8 387.2,793.6 390.6,792.2 C394.0,790.9 397.4,790.6 400.8,790.1 C404.2,789.6 407.5,789.1 410.9,789.1 C414.3,789.1 417.9,789.1 421.1,790.1 C424.3,791.1 427.4,792.9 430.0,795.2 C432.6,797.6 434.4,800.0 436.9,804.2 C439.4,808.4 442.2,814.4 444.9,820.2 C447.6,826.0 450.2,833.1 452.9,838.9 C455.6,844.7 457.8,850.0 460.9,854.9 C464.0,859.8 467.6,864.3 471.6,868.3 C475.6,872.3 479.6,876.1 484.9,879.0 C490.2,881.9 497.0,885.2 503.6,885.8 C510.2,886.4 515.2,885.3 524.5,882.7 C533.8,880.1 547.8,874.9 559.4,870.3 C571.0,865.7 584.1,859.2 594.2,855.1 C604.3,851.0 611.7,847.6 620.0,845.8 C628.3,844.0 636.4,843.7 644.1,844.2 C651.8,844.7 658.8,846.4 666.2,848.8 C673.6,851.2 680.9,855.0 688.3,858.6 C695.6,862.3 702.9,867.5 710.3,870.5 C717.6,873.6 725.0,875.5 732.4,877.0 C739.8,878.5 747.1,879.4 754.5,879.8 C761.9,880.2 772.8,879.6 776.5,879.6" fill="none" stroke="#e8002a" stroke-width="2.7" stroke-linecap="butt" stroke-linejoin="round"/>
<path d="M205.7,931.5 C205.9,931.1 205.8,932.4 207.0,929.0 C208.2,925.6 210.9,917.0 213.0,911.0 C215.1,905.0 217.6,895.1 219.5,893.0 C221.4,890.9 222.8,896.1 224.4,898.2 C226.0,900.3 227.1,903.9 229.3,905.8 C231.5,907.7 234.7,908.9 237.4,909.5 C240.1,910.1 242.2,909.7 245.5,909.3 C248.8,908.9 253.1,908.1 256.9,907.1 C260.7,906.1 264.2,904.8 268.3,903.0 C272.4,901.2 277.0,899.2 281.3,896.5 C285.6,893.8 290.2,890.0 294.3,886.8 C298.4,883.5 301.9,880.5 305.7,877.0 C309.5,873.5 313.6,869.5 317.1,865.8 C320.6,862.1 323.8,858.5 326.8,855.0 C329.8,851.5 331.8,849.1 335.0,845.0 C338.2,840.9 341.8,835.2 346.0,830.5 C350.2,825.8 355.9,820.9 360.0,817.0 C364.1,813.1 366.9,810.4 370.3,807.4 C373.7,804.4 377.1,801.6 380.5,799.2 C383.9,796.8 387.2,794.6 390.6,793.2 C394.0,791.9 397.4,791.6 400.8,791.1 C404.2,790.6 407.5,790.2 410.9,790.2 C414.3,790.2 417.9,790.2 421.1,791.3 C424.3,792.4 427.3,794.1 430.0,796.6 C432.7,799.1 434.9,801.7 437.5,806.0 C440.1,810.3 442.8,816.7 445.5,822.5 C448.2,828.3 450.8,835.2 453.5,841.0 C456.2,846.8 458.4,852.2 461.5,857.0 C464.6,861.8 468.1,866.2 472.0,870.0 C475.9,873.8 479.7,877.2 485.0,880.0 C490.3,882.8 497.0,886.0 503.6,886.6 C510.2,887.2 515.2,886.4 524.5,883.9 C533.8,881.4 547.8,876.4 559.4,871.9 C571.0,867.4 584.1,860.9 594.2,856.9 C604.3,852.8 611.7,849.4 620.0,847.6 C628.3,845.9 636.4,845.8 644.1,846.4 C651.8,846.9 658.8,848.6 666.2,851.0 C673.6,853.5 680.9,857.4 688.3,861.2 C695.6,864.9 702.9,869.6 710.3,873.5 C717.6,877.4 725.0,882.1 732.4,884.6 C739.8,887.1 747.1,887.6 754.5,888.2 C761.9,888.8 772.8,888.4 776.5,888.4" fill="none" stroke="#e8002a" stroke-width="2.7" stroke-linecap="butt" stroke-linejoin="round"/>
<path d="M205.7,931.5 C205.9,931.1 205.8,932.4 207.0,929.0 C208.2,925.6 210.9,917.3 213.0,911.4 C215.1,905.5 217.6,895.7 219.5,893.6 C221.4,891.5 222.8,896.7 224.4,898.8 C226.0,900.9 227.1,904.5 229.3,906.4 C231.5,908.3 234.7,909.5 237.4,910.1 C240.1,910.7 242.2,910.3 245.5,909.9 C248.8,909.5 253.1,908.8 256.9,907.7 C260.7,906.7 264.2,905.4 268.3,903.6 C272.4,901.8 277.0,899.8 281.3,897.1 C285.6,894.4 290.2,890.6 294.3,887.4 C298.4,884.1 301.9,881.1 305.7,877.6 C309.5,874.1 313.6,869.9 317.1,866.4 C320.6,862.9 323.8,859.7 326.8,856.5 C329.8,853.3 331.8,850.8 335.0,847.0 C338.2,843.2 341.8,837.9 346.0,833.6 C350.2,829.3 355.9,824.7 360.0,821.0 C364.1,817.3 366.9,814.5 370.3,811.5 C373.7,808.5 377.1,805.7 380.5,803.3 C383.9,800.9 387.2,798.5 390.6,797.2 C394.0,795.9 397.4,796.0 400.8,795.7 C404.2,795.5 407.5,795.5 410.9,795.7 C414.3,796.0 417.9,795.9 421.1,797.2 C424.3,798.5 426.9,799.9 430.0,803.3 C433.1,806.7 436.6,812.0 439.5,817.5 C442.4,823.0 444.8,830.4 447.5,836.2 C450.2,842.0 452.5,847.2 455.6,852.3 C458.7,857.4 462.2,862.8 466.2,867.0 C470.2,871.2 473.4,874.2 479.6,877.6 C485.8,881.0 496.1,886.2 503.6,887.4 C511.1,888.7 515.2,887.4 524.5,885.1 C533.8,882.8 547.8,877.9 559.4,873.5 C571.0,869.1 584.1,862.6 594.2,858.6 C604.3,854.6 611.7,851.2 620.0,849.5 C628.3,847.8 636.4,847.9 644.1,848.5 C651.8,849.1 658.8,850.8 666.2,853.3 C673.6,855.8 680.9,859.8 688.3,863.7 C695.6,867.5 702.9,872.8 710.3,876.4 C717.6,880.0 725.0,883.5 732.4,885.6 C739.8,887.7 747.1,888.6 754.5,889.2 C761.9,889.8 772.8,889.4 776.5,889.4" fill="none" stroke="#e8002a" stroke-width="2.7" stroke-linecap="butt" stroke-linejoin="round"/>
<path d="M205.7,931.5 C205.8,932.3 205.4,935.4 206.5,936.5 C207.6,937.6 209.8,937.6 212.0,938.0 C214.2,938.4 215.6,938.3 220.0,938.8 C224.4,939.3 232.4,939.5 238.6,941.0 C244.8,942.5 253.2,946.0 257.2,947.5 C261.2,949.0 260.0,948.0 262.8,950.0 C265.6,952.0 270.7,955.8 274.1,959.4 C277.6,963.0 280.7,967.5 283.5,971.6 C286.3,975.7 288.7,979.6 291.0,983.8 C293.3,988.0 295.6,992.8 297.5,996.9 C299.4,1001.0 300.6,1004.6 302.2,1008.2 C303.8,1011.8 305.2,1014.9 306.9,1018.5 C308.6,1022.1 310.6,1026.3 312.5,1029.7 C314.4,1033.1 317.8,1036.0 318.2,1039.1 C318.6,1042.2 314.6,1044.0 314.9,1048.2 C315.2,1052.4 318.4,1058.5 320.2,1064.3 C322.0,1070.1 323.5,1077.0 325.5,1083.0 C327.5,1089.0 329.5,1094.6 332.2,1100.0 C334.9,1105.4 338.2,1111.8 341.6,1115.5 C345.0,1119.2 348.8,1121.2 352.3,1122.5 C355.9,1123.8 359.3,1124.4 362.9,1123.4 C366.4,1122.4 369.6,1119.5 373.6,1116.5 C377.6,1113.5 383.0,1109.5 387.0,1105.5 C391.0,1101.5 394.1,1096.8 397.7,1092.3 C401.3,1087.8 404.8,1083.8 408.4,1078.6 C411.9,1073.4 415.4,1067.0 419.0,1060.9 C422.6,1054.8 425.5,1049.9 430.0,1042.0 C434.5,1034.1 441.4,1021.2 446.1,1013.3 C450.8,1005.4 454.0,999.8 458.0,994.8 C462.0,989.8 463.1,985.6 470.0,983.2 C476.9,980.8 490.9,979.7 499.7,980.3 C508.5,980.9 515.2,983.8 522.9,986.7 C530.6,989.6 538.4,994.3 546.1,997.9 C553.9,1001.5 561.6,1005.7 569.4,1008.3 C577.1,1011.0 585.8,1012.9 592.6,1013.8 C599.4,1014.7 604.6,1014.5 610.0,1014.0 C615.4,1013.5 619.9,1012.3 625.0,1010.8 C630.1,1009.3 634.8,1007.2 640.9,1005.0 C647.0,1002.8 654.8,999.9 661.8,997.3 C668.8,994.7 675.7,991.9 682.7,989.4 C689.7,987.0 696.6,984.3 703.6,982.6 C710.6,980.8 717.5,979.2 724.5,978.8 C731.5,978.4 738.4,979.1 745.4,980.2 C752.4,981.3 761.2,984.9 766.4,985.6 C771.6,986.4 775.1,984.8 776.8,984.7" fill="none" stroke="#1d3a6e" stroke-width="2.7" stroke-dasharray="20 17" stroke-linecap="butt" stroke-linejoin="round" stroke-dashoffset="6.7"/>
<path d="M205.7,931.5 C205.8,932.3 205.4,935.4 206.5,936.5 C207.6,937.6 209.8,937.6 212.0,938.0 C214.2,938.4 215.6,938.3 220.0,938.8 C224.4,939.3 232.4,939.5 238.6,941.0 C244.8,942.5 253.2,946.0 257.2,947.5 C261.2,949.0 260.0,948.0 262.8,950.0 C265.6,952.0 270.7,955.8 274.1,959.4 C277.6,963.0 280.7,967.5 283.5,971.6 C286.3,975.7 288.7,979.6 291.0,983.8 C293.3,988.0 295.6,992.8 297.5,996.9 C299.4,1001.0 300.6,1004.6 302.2,1008.2 C303.8,1011.8 305.2,1014.9 306.9,1018.5 C308.6,1022.1 310.6,1026.3 312.5,1029.7 C314.4,1033.1 316.0,1036.0 318.2,1039.1 C320.4,1042.2 322.9,1045.6 325.7,1048.5 C328.5,1051.4 331.6,1054.5 335.0,1056.5 C338.4,1058.5 342.2,1059.7 345.8,1060.2 C349.4,1060.7 353.2,1060.2 356.9,1059.7 C360.6,1059.2 363.8,1058.5 368.1,1056.9 C372.4,1055.4 377.9,1053.2 382.9,1050.4 C387.8,1047.6 392.8,1044.1 397.8,1040.2 C402.8,1036.3 407.8,1031.9 412.7,1027.2 C417.6,1022.6 422.6,1016.9 427.5,1012.3 C432.4,1007.6 437.1,1003.6 442.4,999.3 C447.6,995.0 453.3,990.0 459.0,986.5 C464.7,983.0 469.7,979.6 476.5,978.2 C483.3,976.8 492.0,977.2 499.7,978.2 C507.4,979.2 515.2,981.5 522.9,984.3 C530.6,987.1 538.4,991.7 546.1,995.2 C553.9,998.7 561.6,1002.8 569.4,1005.4 C577.1,1008.0 585.8,1009.7 592.6,1010.6 C599.4,1011.5 604.6,1011.3 610.0,1010.8 C615.4,1010.3 619.9,1009.1 625.0,1007.6 C630.1,1006.1 634.8,1004.1 640.9,1001.8 C647.0,999.6 654.8,996.7 661.8,994.1 C668.8,991.5 675.7,988.9 682.7,986.5 C689.7,984.1 696.6,981.7 703.6,979.9 C710.6,978.1 717.5,976.6 724.5,975.6 C731.5,974.6 738.4,973.8 745.4,973.6 C752.4,973.5 761.2,975.0 766.4,974.7 C771.6,974.4 775.1,972.4 776.8,971.9" fill="none" stroke="#1d3a6e" stroke-width="2.7" stroke-linecap="butt" stroke-linejoin="round"/>
<path d="M205.7,931.5 C205.8,932.4 205.4,935.8 206.5,937.0 C207.6,938.2 209.8,938.2 212.0,938.6 C214.2,939.0 215.6,938.9 220.0,939.4 C224.4,939.9 232.4,940.3 238.6,941.8 C244.8,943.3 253.2,946.9 257.2,948.5 C261.2,950.1 260.0,949.1 262.8,951.2 C265.6,953.3 270.7,957.3 274.1,961.0 C277.6,964.7 280.7,969.4 283.5,973.6 C286.3,977.8 288.7,981.9 291.0,986.2 C293.3,990.5 295.6,995.4 297.5,999.5 C299.4,1003.6 300.6,1007.3 302.2,1011.0 C303.8,1014.7 305.2,1017.8 306.9,1021.5 C308.6,1025.2 310.6,1029.4 312.5,1033.0 C314.4,1036.6 316.4,1040.0 318.2,1043.0 C320.0,1046.0 320.8,1048.2 323.5,1051.3 C326.2,1054.4 330.9,1059.1 334.6,1061.5 C338.3,1063.9 342.1,1065.0 345.8,1065.8 C349.5,1066.6 353.2,1066.6 356.9,1066.2 C360.6,1065.8 363.8,1065.0 368.1,1063.4 C372.4,1061.9 377.9,1059.8 382.9,1056.9 C387.8,1054.0 392.8,1050.1 397.8,1045.8 C402.8,1041.5 407.8,1036.0 412.7,1031.0 C417.6,1026.0 422.6,1020.3 427.5,1015.5 C432.4,1010.7 437.1,1006.5 442.4,1002.0 C447.6,997.5 453.3,992.1 459.0,988.5 C464.7,984.9 469.7,981.7 476.5,980.3 C483.3,979.0 492.0,979.3 499.7,980.3 C507.4,981.4 515.2,983.8 522.9,986.7 C530.6,989.6 538.4,994.3 546.1,997.9 C553.9,1001.5 561.6,1005.7 569.4,1008.3 C577.1,1011.0 585.8,1012.9 592.6,1013.8 C599.4,1014.7 604.6,1014.5 610.0,1014.0 C615.4,1013.5 619.9,1012.3 625.0,1010.8 C630.1,1009.3 634.8,1007.2 640.9,1005.0 C647.0,1002.8 654.8,999.9 661.8,997.3 C668.8,994.7 675.7,991.9 682.7,989.4 C689.7,987.0 696.6,984.3 703.6,982.6 C710.6,980.8 717.5,979.2 724.5,978.8 C731.5,978.4 738.4,979.1 745.4,980.2 C752.4,981.3 761.2,984.9 766.4,985.6 C771.6,986.4 775.1,984.8 776.8,984.7" fill="none" stroke="#1d3a6e" stroke-width="2.7" stroke-linecap="butt" stroke-linejoin="round"/>
<path d="M205.7,931.5 C205.8,932.4 205.4,935.7 206.5,936.8 C207.6,937.9 209.8,937.9 212.0,938.3 C214.2,938.7 215.6,938.6 220.0,939.1 C224.4,939.6 232.4,939.9 238.6,941.4 C244.8,942.9 253.2,946.5 257.2,948.0 C261.2,949.5 260.0,948.6 262.8,950.6 C265.6,952.6 270.7,956.5 274.1,960.2 C277.6,963.9 280.7,968.5 283.5,972.6 C286.3,976.7 288.7,980.7 291.0,985.0 C293.3,989.3 295.6,994.1 297.5,998.2 C299.4,1002.3 300.6,1006.0 302.2,1009.6 C303.8,1013.2 305.2,1016.1 306.9,1019.6 C308.6,1023.1 310.6,1027.3 312.5,1030.8 C314.4,1034.2 316.0,1037.1 318.2,1040.3 C320.4,1043.5 322.9,1046.9 325.7,1049.8 C328.5,1052.7 331.6,1055.9 335.0,1057.8 C338.4,1059.7 342.2,1060.9 345.8,1061.4 C349.4,1061.9 353.2,1061.5 356.9,1061.0 C360.6,1060.5 363.8,1059.8 368.1,1058.2 C372.4,1056.7 377.9,1054.5 382.9,1051.7 C387.8,1048.9 392.8,1045.3 397.8,1041.4 C402.8,1037.5 407.8,1033.0 412.7,1028.3 C417.6,1023.6 422.6,1018.1 427.5,1013.4 C432.4,1008.7 437.1,1004.6 442.4,1000.2 C447.6,995.9 453.3,990.8 459.0,987.3 C464.7,983.8 469.7,980.6 476.5,979.3 C483.3,977.9 492.0,978.2 499.7,979.3 C507.4,980.3 515.2,982.6 522.9,985.5 C530.6,988.4 538.4,993.0 546.1,996.5 C553.9,1000.1 561.6,1004.3 569.4,1006.9 C577.1,1009.5 585.8,1011.3 592.6,1012.2 C599.4,1013.1 604.6,1012.9 610.0,1012.4 C615.4,1011.9 619.9,1010.7 625.0,1009.2 C630.1,1007.7 634.8,1005.7 640.9,1003.4 C647.0,1001.2 654.8,998.3 661.8,995.7 C668.8,993.1 675.7,990.4 682.7,988.0 C689.7,985.6 696.6,983.0 703.6,981.2 C710.6,979.4 717.5,978.3 724.5,977.2 C731.5,976.1 738.4,975.0 745.4,974.8 C752.4,974.6 761.2,976.2 766.4,975.9 C771.6,975.6 775.1,973.6 776.8,973.1" fill="none" stroke="#1d3a6e" stroke-width="2.7" stroke-linecap="butt" stroke-linejoin="round"/>
<path d="M205.7,931.5 C205.8,933.8 205.8,940.8 206.0,945.0 C206.2,949.2 205.9,954.7 206.7,957.0 C207.5,959.3 209.4,958.7 211.0,959.0 C212.6,959.3 213.7,959.3 216.0,958.7 C218.3,958.1 222.0,956.4 225.0,955.5 C228.0,954.6 230.2,953.0 234.0,953.2 C237.8,953.5 243.6,955.4 247.9,957.0 C252.2,958.6 256.4,961.1 260.0,963.1 C263.6,965.1 266.3,966.1 269.4,968.8 C272.5,971.5 275.7,975.2 278.8,979.1 C281.9,983.0 285.3,988.0 288.1,992.2 C290.9,996.4 293.4,1000.5 295.6,1004.4 C297.8,1008.3 299.4,1012.0 301.3,1015.7 C303.2,1019.5 305.0,1023.0 306.9,1026.9 C308.8,1030.8 310.9,1035.0 312.5,1039.1 C314.1,1043.2 314.9,1047.4 316.3,1051.3 C317.7,1055.2 319.2,1058.6 321.0,1062.6 C322.8,1066.6 324.6,1070.9 327.2,1075.5 C329.8,1080.1 333.4,1086.4 336.5,1090.4 C339.6,1094.4 343.0,1097.8 345.8,1099.6 C348.6,1101.4 350.1,1101.5 353.2,1101.5 C356.3,1101.5 360.6,1100.4 364.3,1099.6 C368.0,1098.8 371.8,1098.4 375.5,1096.9 C379.2,1095.4 382.9,1093.7 386.6,1090.4 C390.3,1087.1 394.1,1082.0 397.8,1077.3 C401.5,1072.6 405.2,1067.8 408.9,1062.5 C412.6,1057.2 416.4,1051.7 420.1,1045.8 C423.8,1039.9 427.5,1033.1 431.2,1027.2 C434.9,1021.3 438.7,1015.8 442.4,1010.4 C446.1,1005.0 449.4,999.1 453.2,994.8 C457.0,990.5 457.2,986.7 465.0,984.5 C472.8,982.3 490.1,980.8 499.7,981.4 C509.3,982.0 515.2,984.9 522.9,987.9 C530.6,990.9 538.4,995.6 546.1,999.2 C553.9,1002.9 561.6,1007.1 569.4,1009.8 C577.1,1012.5 585.8,1014.4 592.6,1015.4 C599.4,1016.4 604.6,1016.1 610.0,1015.6 C615.4,1015.1 619.9,1013.9 625.0,1012.4 C630.1,1010.9 634.8,1008.9 640.9,1006.6 C647.0,1004.4 654.8,1001.5 661.8,998.9 C668.8,996.3 675.7,993.4 682.7,990.9 C689.7,988.4 696.6,985.6 703.6,983.9 C710.6,982.1 717.5,980.8 724.5,980.4 C731.5,980.0 738.4,980.3 745.4,981.4 C752.4,982.5 761.2,986.1 766.4,986.8 C771.6,987.6 775.1,986.0 776.8,985.9" fill="none" stroke="#1d3a6e" stroke-width="2.7" stroke-linecap="butt" stroke-linejoin="round"/>
<text x="359.50" y="750.50" font-family="Liberation Sans" stroke="#fff" stroke-width="0.5" font-size="40">4</text>
<text x="376.50" y="789.00" font-family="Liberation Sans" stroke="#fff" stroke-width="0.5" font-size="40">7</text>
<text x="400.00" y="795.00" font-family="Liberation Sans" stroke="#fff" stroke-width="0.5" font-size="40">3</text>
<text x="395.00" y="834.50" font-family="Liberation Sans" stroke="#fff" stroke-width="0.5" font-size="40">6</text>
<text x="603.50" y="921.50" font-family="Liberation Sans" stroke="#fff" stroke-width="0.5" font-size="40"> </text><path d="M515 0V1237L197 1010V1180L530 1409H696V0Z" stroke="#fff" stroke-width="25.6" transform="translate(603.50,921.50) scale(0.019531,-0.019531)"/>
<text x="720.00" y="826.50" font-family="Liberation Sans" stroke="#fff" stroke-width="0.5" font-size="40">2</text>
<text x="720.00" y="873.00" font-family="Liberation Sans" stroke="#fff" stroke-width="0.5" font-size="40">5</text>
<text x="340.00" y="1055.50" font-family="Liberation Sans" stroke="#fff" stroke-width="0.5" font-size="40">6</text>
<text x="340.00" y="1100.50" font-family="Liberation Sans" stroke="#fff" stroke-width="0.5" font-size="40">7</text>
<text x="363.50" y="1086.40" font-family="Liberation Sans" stroke="#fff" stroke-width="0.5" font-size="40">3</text>
<text x="360.00" y="1150.00" font-family="Liberation Sans" stroke="#fff" stroke-width="0.5" font-size="40">4</text>
<text x="720.00" y="1026.30" font-family="Liberation Sans" stroke="#fff" stroke-width="0.5" font-size="40">5</text>
<text x="720.00" y="1065.60" font-family="Liberation Sans" stroke="#fff" stroke-width="0.5" font-size="40">2</text>
</g>
</svg>
</body></html>
